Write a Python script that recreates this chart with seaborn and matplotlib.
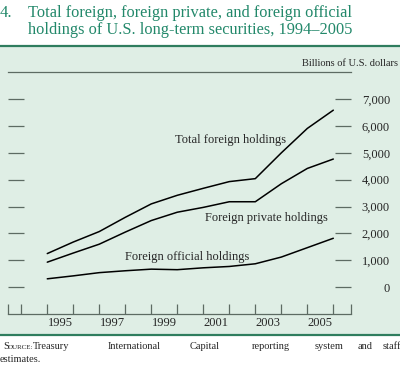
import pandas as pd
import matplotlib
matplotlib.use("Agg")
import matplotlib.pyplot as plt
import seaborn as sns
from matplotlib.patches import Rectangle
from matplotlib.lines import Line2D

# Holdings, billions of U.S. dollars
years = [1994, 1995, 1996, 1997, 1998, 1999, 2000, 2001, 2002, 2003, 2004, 2005]
total_foreign = [1250, 1680, 2070, 2600, 3100, 3420, 3680, 3930, 4040, 5000, 5910, 6590]
foreign_private = [930, 1270, 1600, 2050, 2480, 2790, 2970, 3180, 3180, 3850, 4420, 4770]
foreign_official = [310, 420, 540, 610, 670, 650, 720, 770, 870, 1120, 1470, 1820]

series_names = ["Total foreign holdings", "Foreign private holdings", "Foreign official holdings"]
y_ticks = [0, 1000, 2000, 3000, 4000, 5000, 6000, 7000]
y_tick_labels = ["0", "1,000", "2,000", "3,000", "4,000", "5,000", "6,000", "7,000"]
year_labels = [1995, 1997, 1999, 2001, 2003, 2005]

BG = "#dfeee5"
DARK_GREEN = "#2f7d5e"
TITLE_GREEN = "#22886a"
GREY = "#5d6b63"
SERIF = ["Liberation Serif", "DejaVu Serif"]

sns.set_style("white")
plt.rcParams["font.family"] = SERIF

# values are end-of-year, so plot each year at the boundary after it
rows = []
for name, vals in zip(series_names, [total_foreign, foreign_private, foreign_official]):
    for yr, v in zip(years, vals):
        rows.append({"x": yr + 1, "value": v, "series": name})
df = pd.DataFrame(rows)

fig = plt.figure(figsize=(4.0, 3.71), dpi=100)
H = 371.0

# green panel behind the chart
fig.patches.append(Rectangle((0, 1 - 335 / H), 1, (335 - 46) / H, transform=fig.transFigure,
                             facecolor=BG, edgecolor="none", zorder=-10))
for yy in (46, 335):
    fig.lines.append(Line2D([0, 1], [1 - yy / H, 1 - yy / H], transform=fig.transFigure,
                            color=DARK_GREEN, linewidth=1.6, zorder=-5))

ax = fig.add_axes([8 / 400, 1 - 314 / H, (351 - 8) / 400, (314 - 72.3) / H])
ax.set_facecolor("none")
ax.set_zorder(2)

sns.lineplot(data=df, x="x", y="value", hue="series", palette=["black"] * 3,
             linewidth=1.1, legend=False, ax=ax)

x_lo, x_hi = 1993.49, 2006.68
ax.set_xlim(x_lo, x_hi)
ax.set_ylim(-1000, 8000)

# year boundaries as ticks, labels at mid-year
ax.set_xticks([x_lo] + list(range(1994, 2007)) + [x_hi])
ax.set_xticklabels([])
ax.set_xticks([y + 0.5 for y in year_labels], minor=True)
ax.set_xticklabels([str(y) for y in year_labels], minor=True)
ax.tick_params(axis="x", which="major", direction="in", length=7.2, width=0.9, color=GREY,
               bottom=True)
ax.tick_params(axis="x", which="minor", bottom=True, length=0, pad=2, labelsize=9)

ax.set_yticks(y_ticks)
ax.set_yticklabels(y_tick_labels)
ax.tick_params(axis="y", which="major", direction="in", length=11.5, width=0.9, color=GREY,
               left=True, right=True, labelleft=False, labelright=True, labelsize=9, pad=28)
for lab in ax.get_yticklabels():
    lab.set_horizontalalignment("right")

for side in ("left", "right"):
    ax.spines[side].set_visible(False)
for side in ("top", "bottom"):
    ax.spines[side].set_visible(True)
    ax.spines[side].set_color(GREY)
    ax.spines[side].set_linewidth(0.9)
ax.set_xlabel("")
ax.set_ylabel("")

# series labels
ax.text(2002.03, 5480, "Total foreign holdings", ha="center", va="center", fontsize=9)
ax.text(2003.41, 2570, "Foreign private holdings", ha="center", va="center", fontsize=9)
ax.text(2000.37, 1120, "Foreign official holdings", ha="center", va="center", fontsize=9)

fig.text(398 / 400, 1 - 66 / H, "Billions of U.S. dollars", ha="right", va="baseline", fontsize=7.5)

# title
fig.text(0 / 400, 1 - 17 / H, "4.", ha="left", va="baseline", fontsize=12, color=TITLE_GREEN)
fig.text(28 / 400, 1 - 17 / H, "Total foreign, foreign private, and foreign official",
         ha="left", va="baseline", fontsize=11.8, color=TITLE_GREEN)
fig.text(28 / 400, 1 - 34 / H, "holdings of U.S. long-term securities, 1994\u20132005",
         ha="left", va="baseline", fontsize=11.8, color=TITLE_GREEN)

# source note, justified by hand
fig.text(3 / 400, 1 - 349 / H, "S", ha="left", va="baseline", fontsize=7.5)
fig.text(7.5 / 400, 1 - 349 / H, "OURCE:", ha="left", va="baseline", fontsize=5)
words = ["Treasury", "International", "Capital", "reporting", "system", "and", "staff"]
word_x = [33, 108, 190, 252, 315, 358, 383]
for w, wx in zip(words, word_x):
    fig.text(wx / 400, 1 - 349 / H, w, ha="left", va="baseline", fontsize=7.5)
fig.text(0, 1 - 362 / H, "estimates.", ha="left", va="baseline", fontsize=7.5)

fig.savefig("out.png", dpi=100, facecolor="white")
